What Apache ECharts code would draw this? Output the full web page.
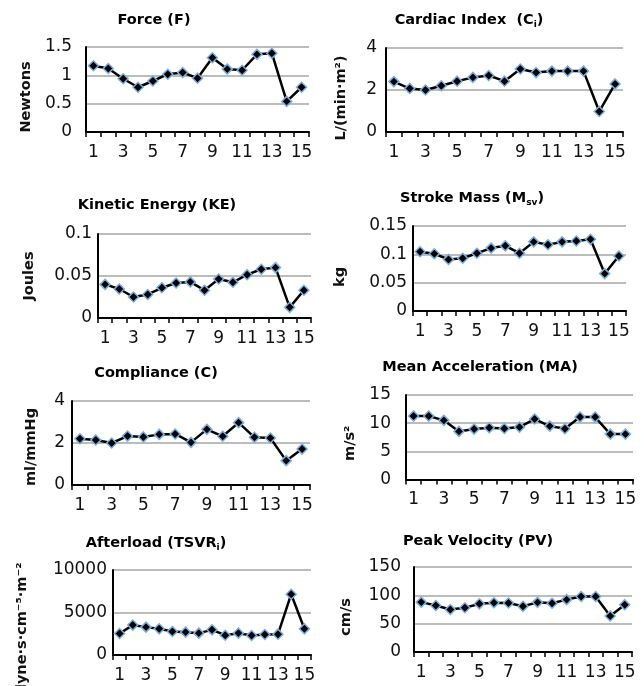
<!DOCTYPE html>
<html>
<head>
<meta charset="utf-8">
<script src="https://cdn.jsdelivr.net/npm/echarts@6/dist/echarts.min.js"></script>
<style>html,body{margin:0;padding:0;background:#fff;}#c{width:644px;height:686px;}</style>
</head>
<body>
<div id="c"></div>
<script>
// ---- data ----
const categories = ['1','2','3','4','5','6','7','8','9','10','11','12','13','14','15'];
const forceValues = [1.17,1.12,0.94,0.79,0.90,1.02,1.05,0.95,1.31,1.11,1.09,1.37,1.39,0.54,0.79];
const cardiacValues = [2.40,2.07,2.00,2.20,2.42,2.60,2.69,2.42,3.00,2.83,2.90,2.90,2.90,0.98,2.29];
const keValues = [0.040,0.0345,0.025,0.028,0.036,0.0417,0.043,0.033,0.0464,0.0425,0.0516,0.058,0.060,0.0127,0.033];
const strokeMassValues = [0.1047,0.101,0.091,0.093,0.102,0.111,0.115,0.102,0.122,0.117,0.122,0.1235,0.1265,0.066,0.097];
const complianceValues = [2.20,2.14,2.00,2.33,2.29,2.41,2.43,2.03,2.65,2.32,2.97,2.27,2.24,1.16,1.71];
const meanAccelValues = [11.26,11.26,10.5,8.54,8.95,9.19,9.07,9.30,10.73,9.48,9.00,11.08,11.08,8.06,8.06];
const afterloadValues = [2530,3520,3280,3080,2770,2690,2570,2960,2330,2570,2290,2410,2450,7150,3080];
const peakVelValues = [88,82,75,78,85,87,86.5,80.6,87.6,86,92.4,98,98,63.5,83.5];

const titles = ['{b|Force (F)}','{b|Cardiac Index  (C}{s|i}{b|)}','{b|Kinetic Energy (KE)}','{b|Stroke Mass (M}{s|sv}{b|)}',
  '{b|Compliance (C)}','{b|Mean Acceleration (MA)}','{b|Afterload (TSVR}{s|i}{b|)}','{b|Peak Velocity (PV)}'];
const units = ['Newtons','L/(min·m²)','Joules','kg','ml/mmHg','m/s²','dyne·s·cm⁻⁵·m⁻²','cm/s'];
const yMax = [1.5,4,0.1,0.15,4,15,10000,150];
const yInterval = [0.5,2,0.05,0.05,2,5,5000,50];
const seriesValues = [forceValues,cardiacValues,keValues,strokeMassValues,complianceValues,meanAccelValues,afterloadValues,peakVelValues];

// ---- layout ----
const grids = [
  {left:86, top:47, width:223, height:85},
  {left:386, top:48, width:237, height:84},
  {left:98, top:234, width:213, height:84},
  {left:413, top:226, width:213, height:85},
  {left:72, top:401, width:238, height:84},
  {left:406, top:395, width:227, height:84.5},
  {left:113, top:570, width:198, height:85},
  {left:414, top:567, width:218, height:85}
];
const titlePos = [[154,20],[469,20],[157,205],[472,198],[156,373],[480,367],[156,543],[478,541]];
const yLabelMargin = [14,9,6,6,7,15,6,13];
const nameGaps = [52.5,37.5,61.5,65.5,33.5,48.5,83.5,60.5];
const namePads = [[0,15,0,0],[0,16,0,0],[0,0,0,0],[0,17,0,0],[0,8,0,0],[0,12,0,0],[0,32,0,0],[0,15,0,0]];

const TICK_FONT = 'DejaVu Sans';
const BOLD_FONT = 'DejaVu Sans';

const option = {
  animation:false,
  backgroundColor:'#fff',
  grid: grids.map(g => Object.assign({containLabel:false, outerBoundsMode:'none'}, g)),
  xAxis: grids.map((g,i) => ({
    type:'category', gridIndex:i, data:categories, boundaryGap:true,
    axisLine:{show:true, lineStyle:{color:'#000', width:2}},
    axisTick:{show:true, interval:0, length:5, lineStyle:{color:'#000', width:1.5}},
    axisLabel:{interval:1, margin:12, fontFamily:TICK_FONT, fontSize:17, color:'#111'},
    splitLine:{show:false}
  })),
  yAxis: grids.map((g,i) => ({
    type:'value', gridIndex:i, min:0, max:yMax[i], interval:yInterval[i],
    name:units[i], nameLocation:'middle', nameRotate:90, nameGap:nameGaps[i],
    nameTextStyle:{fontFamily:BOLD_FONT, fontWeight:'bold', fontSize:14.5, color:'#111', padding:namePads[i]},
    axisLine:{show:true, lineStyle:{color:'#000', width:2}},
    axisTick:{show:false},
    axisLabel:{margin:yLabelMargin[i], fontFamily:TICK_FONT, fontSize:17, color:'#111',
      formatter: v => String(+v.toPrecision(6))},
    splitLine:{show:true, lineStyle:{color:'#a6a6a6', width:1.5}}
  })),
  series: seriesValues.map((vals,i) => ({
    type:'line', xAxisIndex:i, yAxisIndex:i, data:vals,
    symbol:'diamond', symbolSize:10, showSymbol:true, showAllSymbol:true,
    lineStyle:{color:'#000', width:2.5},
    itemStyle:{color:'#000', borderColor:'#79aee0', borderWidth:1.5}
  })),
  graphic: titles.map((t,i) => ({
    type:'text', x:titlePos[i][0], y:titlePos[i][1], silent:true,
    style:{
      text:t, align:'center', verticalAlign:'middle',
      rich:{
        b:{fontFamily:BOLD_FONT, fontWeight:'bold', fontSize:14.5, color:'#111', lineHeight:18},
        s:{fontFamily:BOLD_FONT, fontWeight:'bold', fontSize:9, color:'#111', lineHeight:8, verticalAlign:'bottom'}
      }
    }
  }))
};
const chart = echarts.init(document.getElementById('c'), null, {renderer:'canvas'});
chart.setOption(option);
</script>
</body>
</html>
